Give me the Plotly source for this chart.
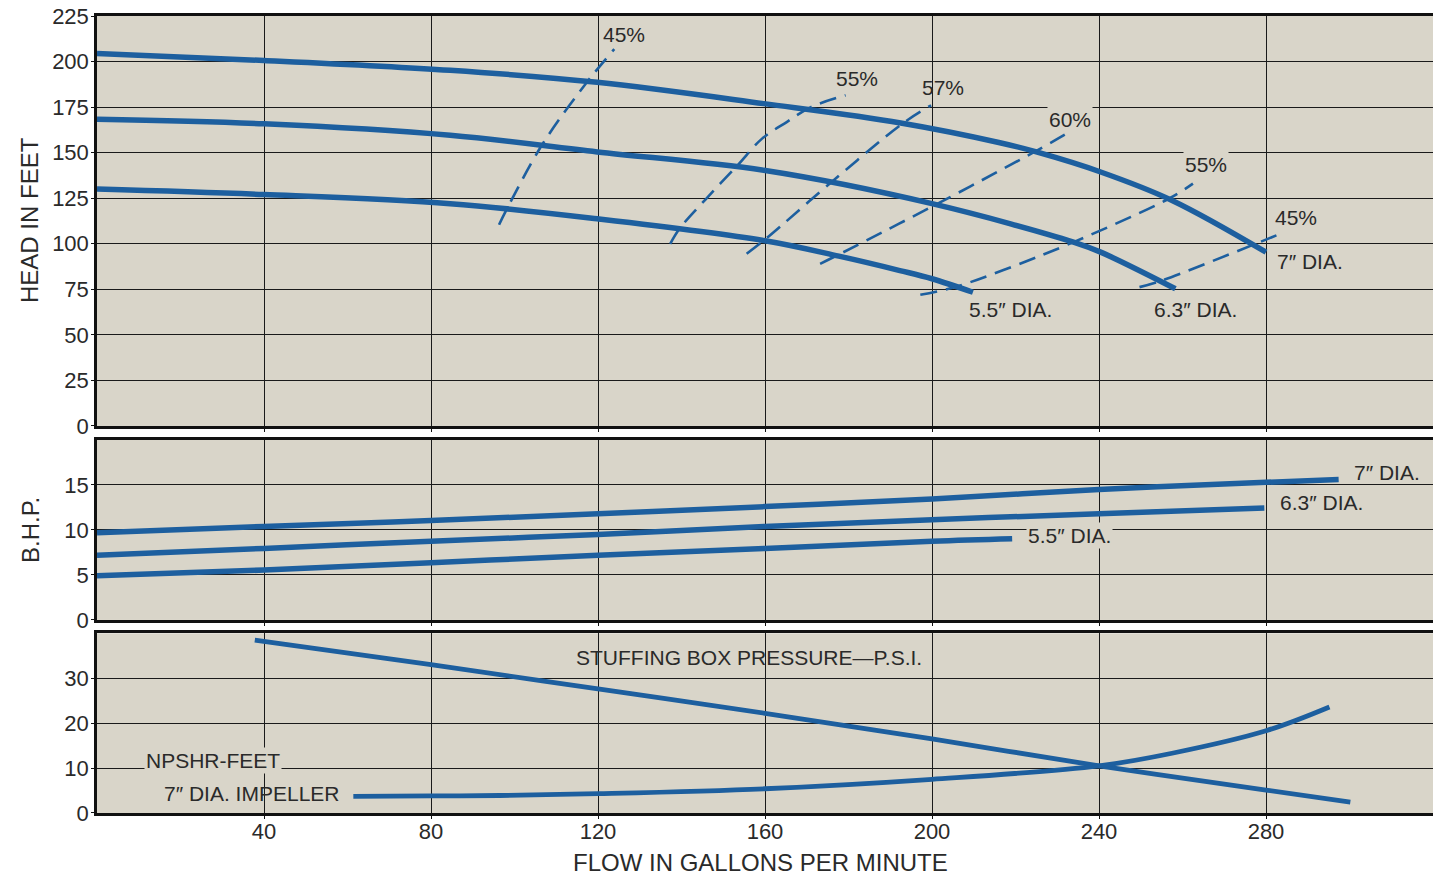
import plotly.graph_objects as go

# ---------------- data ----------------
# Head (ft) vs flow (gpm) for impeller diameters
h7_x = [0, 40, 84.6, 119.8, 159.7, 192.5, 216, 225, 240.4, 257.5, 280]
h7_y = [204.4, 200.6, 195.2, 188.6, 176.9, 166.3, 155.6, 150.4, 139.4, 123.8, 95.4]
h63_x = [0, 40, 84.6, 119.8, 159.7, 200, 233.9, 240.4, 258.3]
h63_y = [168.3, 165.8, 159.5, 150.4, 140.3, 122, 100.9, 95.4, 75.3]
h55_x = [0, 40, 84.6, 119.8, 159.7, 177.7, 192.3, 200, 209.8]
h55_y = [130, 127, 122, 113.7, 101.8, 93.2, 85.3, 80.8, 73.4]

# Efficiency contours (dashed)
e45l_x = [96.3, 98, 106.8, 117.7, 123.9]
e45l_y = [110.4, 118.3, 155, 189.7, 206.8]
e55l_x = [137.3, 139.5, 145.9, 153.4, 159.3, 165.2, 171.1, 179.3]
e55l_y = [100, 108.2, 124.7, 143, 157.7, 166.8, 175.1, 181.5]
e57_x = [155.6, 160.2, 176.1, 192.9, 199.8]
e57_y = [94.5, 102.7, 134.2, 165.9, 176]
e60_x = [173.2, 176.9, 200.5, 224.5, 231.8]
e60_y = [89, 93.2, 121, 150.4, 159.9]
e55r_x = [197.2, 205.4, 216.8, 233.9, 256.7, 262.5]
e55r_y = [72, 76.2, 85.3, 100.9, 124.7, 133]
e45r_x = [249.7, 255, 277, 282.5]
e45r_y = [76.2, 79.8, 99.5, 104.6]

# Brake horsepower
b7_x = [0, 40, 80, 120, 160, 200, 240, 280, 297.4]
b7_y = [9.7, 10.4, 11.05, 11.8, 12.6, 13.45, 14.5, 15.3, 15.6]
b63_x = [0, 40, 80, 120, 160, 200, 240, 279.6]
b63_y = [7.2, 7.95, 8.75, 9.5, 10.4, 11.15, 11.8, 12.45]
b55_x = [0, 40, 80, 120, 160, 200, 219.2]
b55_y = [4.9, 5.55, 6.35, 7.2, 7.95, 8.75, 9.03]

# Stuffing box pressure (psi) and NPSHR (ft)
sbp_x = [37.8, 80, 120, 160, 200, 240, 280, 300.2]
sbp_y = [38.5, 33, 27.6, 22.2, 16.5, 10.5, 5.1, 2.4]
npsh_x = [61.4, 80, 96.5, 120, 160, 200, 240, 257.5, 280, 295.2]
npsh_y = [3.7, 3.8, 3.9, 4.3, 5.4, 7.5, 10.5, 13.3, 18.3, 23.6]

x_ticks = [40, 80, 120, 160, 200, 240, 280]
head_ticks = [0, 25, 50, 75, 100, 125, 150, 175, 200, 225]
bhp_ticks = [0, 5, 10, 15]
low_ticks = [0, 10, 20, 30]

# ---------------- style ----------------
BLUE = "#1d5f9f"
BG = "#d9d5c9"
INK = "#2a2a2a"
FONT = "Liberation Sans, Arial, sans-serif"

fig = go.Figure()


def solid(x, y, xa, ya, w=5.5):
    fig.add_trace(go.Scatter(x=x, y=y, mode="lines", xaxis=xa, yaxis=ya,
                             line=dict(color=BLUE, width=w, shape="spline"),
                             hoverinfo="skip", showlegend=False))


def dashed(x, y):
    fig.add_trace(go.Scatter(x=x, y=y, mode="lines", xaxis="x3", yaxis="y3",
                             line=dict(color=BLUE, width=2.6, dash="17px,9px",
                                       shape="spline"),
                             hoverinfo="skip", showlegend=False))


# top panel (head)
for xs, ys in [(e45l_x, e45l_y), (e55l_x, e55l_y), (e57_x, e57_y),
               (e60_x, e60_y), (e55r_x, e55r_y), (e45r_x, e45r_y)]:
    dashed(xs, ys)
solid(h7_x, h7_y, "x3", "y3")
solid(h63_x, h63_y, "x3", "y3")
solid(h55_x, h55_y, "x3", "y3")

# middle panel (BHP)
solid(b7_x, b7_y, "x2", "y2")
solid(b63_x, b63_y, "x2", "y2")
solid(b55_x, b55_y, "x2", "y2")

# bottom panel
solid(sbp_x, sbp_y, "x", "y", 4.8)
solid(npsh_x, npsh_y, "x", "y", 4.8)

# ---------------- axes ----------------
tickfont = dict(family=FONT, size=22, color=INK)
xcommon = dict(range=[0, 320], tickvals=x_ticks, showgrid=True,
               gridcolor="#1a1a1a", gridwidth=1.4, showline=True,
               linecolor="#111", linewidth=2.5, mirror=True, zeroline=False,
               ticks="outside", ticklen=3, tickcolor="#111", tickfont=tickfont,
               ticklabelstandoff=-6)
ycommon = dict(showgrid=True, gridcolor="#1a1a1a", gridwidth=1.4,
               showline=True, linecolor="#111", linewidth=2.5, zeroline=False,
               ticks="outside", ticklen=3, tickcolor="#111", tickfont=tickfont,
               ticklabelstandoff=-2)

fig.update_layout(
    width=1433, height=881,
    margin=dict(l=97, r=0, t=16, b=68),
    paper_bgcolor="white", plot_bgcolor=BG,
    font=dict(family=FONT, color=INK),
    xaxis=dict(**xcommon, anchor="y", domain=[0, 1]),
    xaxis2=dict(**xcommon, anchor="y2", matches="x", showticklabels=False),
    xaxis3=dict(**xcommon, anchor="y3", matches="x", showticklabels=False),
    yaxis=dict(**ycommon, domain=[0, 0.2255], range=[0, 40], tickvals=low_ticks),
    yaxis2=dict(**ycommon, domain=[0.2422, 0.468], range=[0, 20], tickvals=bhp_ticks),
    yaxis3=dict(**ycommon, domain=[0.4856, 1], range=[0, 225], tickvals=head_ticks),
    showlegend=False,
)

# ---------------- labels ----------------
def label(text, x, y, xa, ya, bg=False, size=21):
    fig.add_annotation(text=text, x=x, y=y, xref=xa, yref=ya, showarrow=False,
                       xanchor="center", yanchor="middle",
                       font=dict(family=FONT, size=size, color=INK),
                       bgcolor=BG if bg else None, borderpad=1)


label("45%", 126.2, 214.9, "x3", "y3")
label("55%", 182, 190.7, "x3", "y3")
label("57%", 202.6, 185.8, "x3", "y3")
label("60%", 233.1, 168.2, "x3", "y3", bg=True)
label("55%", 265.6, 143.5, "x3", "y3", bg=True)
label("45%", 287.2, 114.4, "x3", "y3")
label("7″ DIA.", 290.5, 90.3, "x3", "y3")
label("5.5″ DIA.", 218.7, 63.9, "x3", "y3")
label("6.3″ DIA.", 263.2, 63.9, "x3", "y3")

label("7″ DIA.", 309, 16.4, "x2", "y2")
label("6.3″ DIA.", 293.3, 13.1, "x2", "y2")
label("5.5″ DIA.", 232.9, 9.44, "x2", "y2", bg=True)

label("STUFFING BOX PRESSURE—P.S.I.", 156.2, 34.7, "x", "y")
label("NPSHR-FEET", 27.7, 11.7, "x", "y", bg=True)
label("7″ DIA. IMPELLER", 37.1, 4.3, "x", "y")

# axis titles
title_font = dict(family=FONT, size=24, color=INK)
fig.add_annotation(text="FLOW IN GALLONS PER MINUTE", xref="paper", yref="paper",
                   x=(760 - 97) / 1336, y=(813 - 862) / 797, showarrow=False,
                   xanchor="center", yanchor="middle", font=title_font)
fig.add_annotation(text="HEAD IN FEET", xref="paper", yref="paper",
                   x=(30 - 97) / 1336, y=(813 - 220) / 797, textangle=-90,
                   xanchor="center", yanchor="middle", showarrow=False,
                   font=title_font)
fig.add_annotation(text="B.H.P.", xref="paper", yref="paper",
                   x=(30 - 97) / 1336, y=(813 - 530) / 797, textangle=-90,
                   xanchor="center", yanchor="middle", showarrow=False,
                   font=title_font)

fig.write_html("out.html")
